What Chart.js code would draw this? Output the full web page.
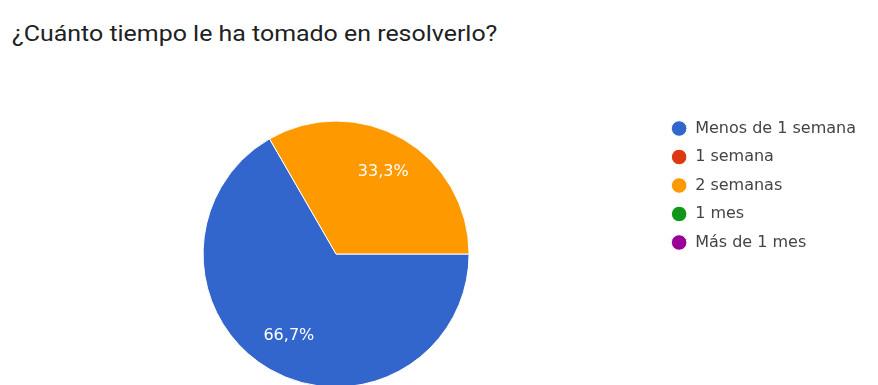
<!DOCTYPE html>
<html lang="es">
<head>
<meta charset="utf-8">
<title>¿Cuánto tiempo le ha tomado en resolverlo?</title>
<script src="https://cdn.jsdelivr.net/npm/chart.js@4/dist/chart.umd.min.js"></script>
<style>
    html, body {
        margin: 0;
        padding: 0;
        background: #ffffff;
        overflow: hidden;
    }
    .chart-title {
        position: absolute;
        left: 12px;
        top: 21px;
        font-family: Roboto, 'Noto Sans', sans-serif;
        font-size: 22px;
        line-height: 26px;
        color: #202124;
        white-space: nowrap;
        transform: scaleX(1.133);
        transform-origin: left center;
    }
    .chart-box {
        position: absolute;
        left: 0;
        top: 0;
    }
</style>
</head>
<body>
<div class="chart-title">¿Cuánto tiempo le ha tomado en resolverlo?</div>
<div class="chart-box">
    <canvas id="pieChart" width="878" height="410"></canvas>
</div>
<script>
const categorias = ['Menos de 1 semana', '1 semana', '2 semanas', '1 mes', 'Más de 1 mes'];
const respuestas = [2, 0, 1, 0, 0];
const colores = ['#3366cc', '#dc3912', '#ff9900', '#109618', '#990099'];

const LABEL_FONT = "'DejaVu Sans', sans-serif";

// escribe el porcentaje dentro de cada porción
const porcentajes = {
    id: 'porcentajes',
    afterDatasetsDraw(chart) {
        const ctx = chart.ctx;
        const meta = chart.getDatasetMeta(0);
        const total = respuestas.reduce((a, b) => a + b, 0);

        ctx.save();
        ctx.fillStyle = '#ffffff';
        ctx.font = `16px ${LABEL_FONT}`;
        ctx.textAlign = 'center';
        ctx.textBaseline = 'middle';

        meta.data.forEach((arc, i) => {
            if (!respuestas[i]) {
                return;
            }
            const props = arc.getProps(['x', 'y', 'startAngle', 'endAngle', 'outerRadius']);
            const mid = (props.startAngle + props.endAngle) / 2;
            const r = props.outerRadius * 0.71;
            const texto = (respuestas[i] / total * 100).toFixed(1).replace('.', ',') + '%';
            ctx.fillText(texto, props.x + Math.cos(mid) * r, props.y + Math.sin(mid) * r);
        });
        ctx.restore();
    }
};

const ctx = document.getElementById('pieChart').getContext('2d');
new Chart(ctx, {
    type: 'pie',
    data: {
        labels: categorias,
        datasets: [{
            data: respuestas,
            backgroundColor: colores,
            borderColor: '#ffffff',
            borderWidth: 1,
            radius: 133,
        }],
    },
    options: {
        responsive: false,
        animation: false,
        rotation: 90,
        layout: {
            padding: {
                left: 13.5,
                right: 12,
                top: 108,
                bottom: 10,
            }
        },
        plugins: {
            legend: {
                position: 'right',
                align: 'start',
                labels: {
                    usePointStyle: true,
                    pointStyle: 'circle',
                    boxWidth: 16,
                    boxHeight: 11,
                    padding: 12.5,
                    color: '#444444',
                    font: {
                        family: LABEL_FONT,
                        size: 16,
                    },
                },
            },
            tooltip: {
                enabled: false,
            },
            title: {
                display: false,
            },
        },
    },
    plugins: [porcentajes],
});
</script>
</body>
</html>
